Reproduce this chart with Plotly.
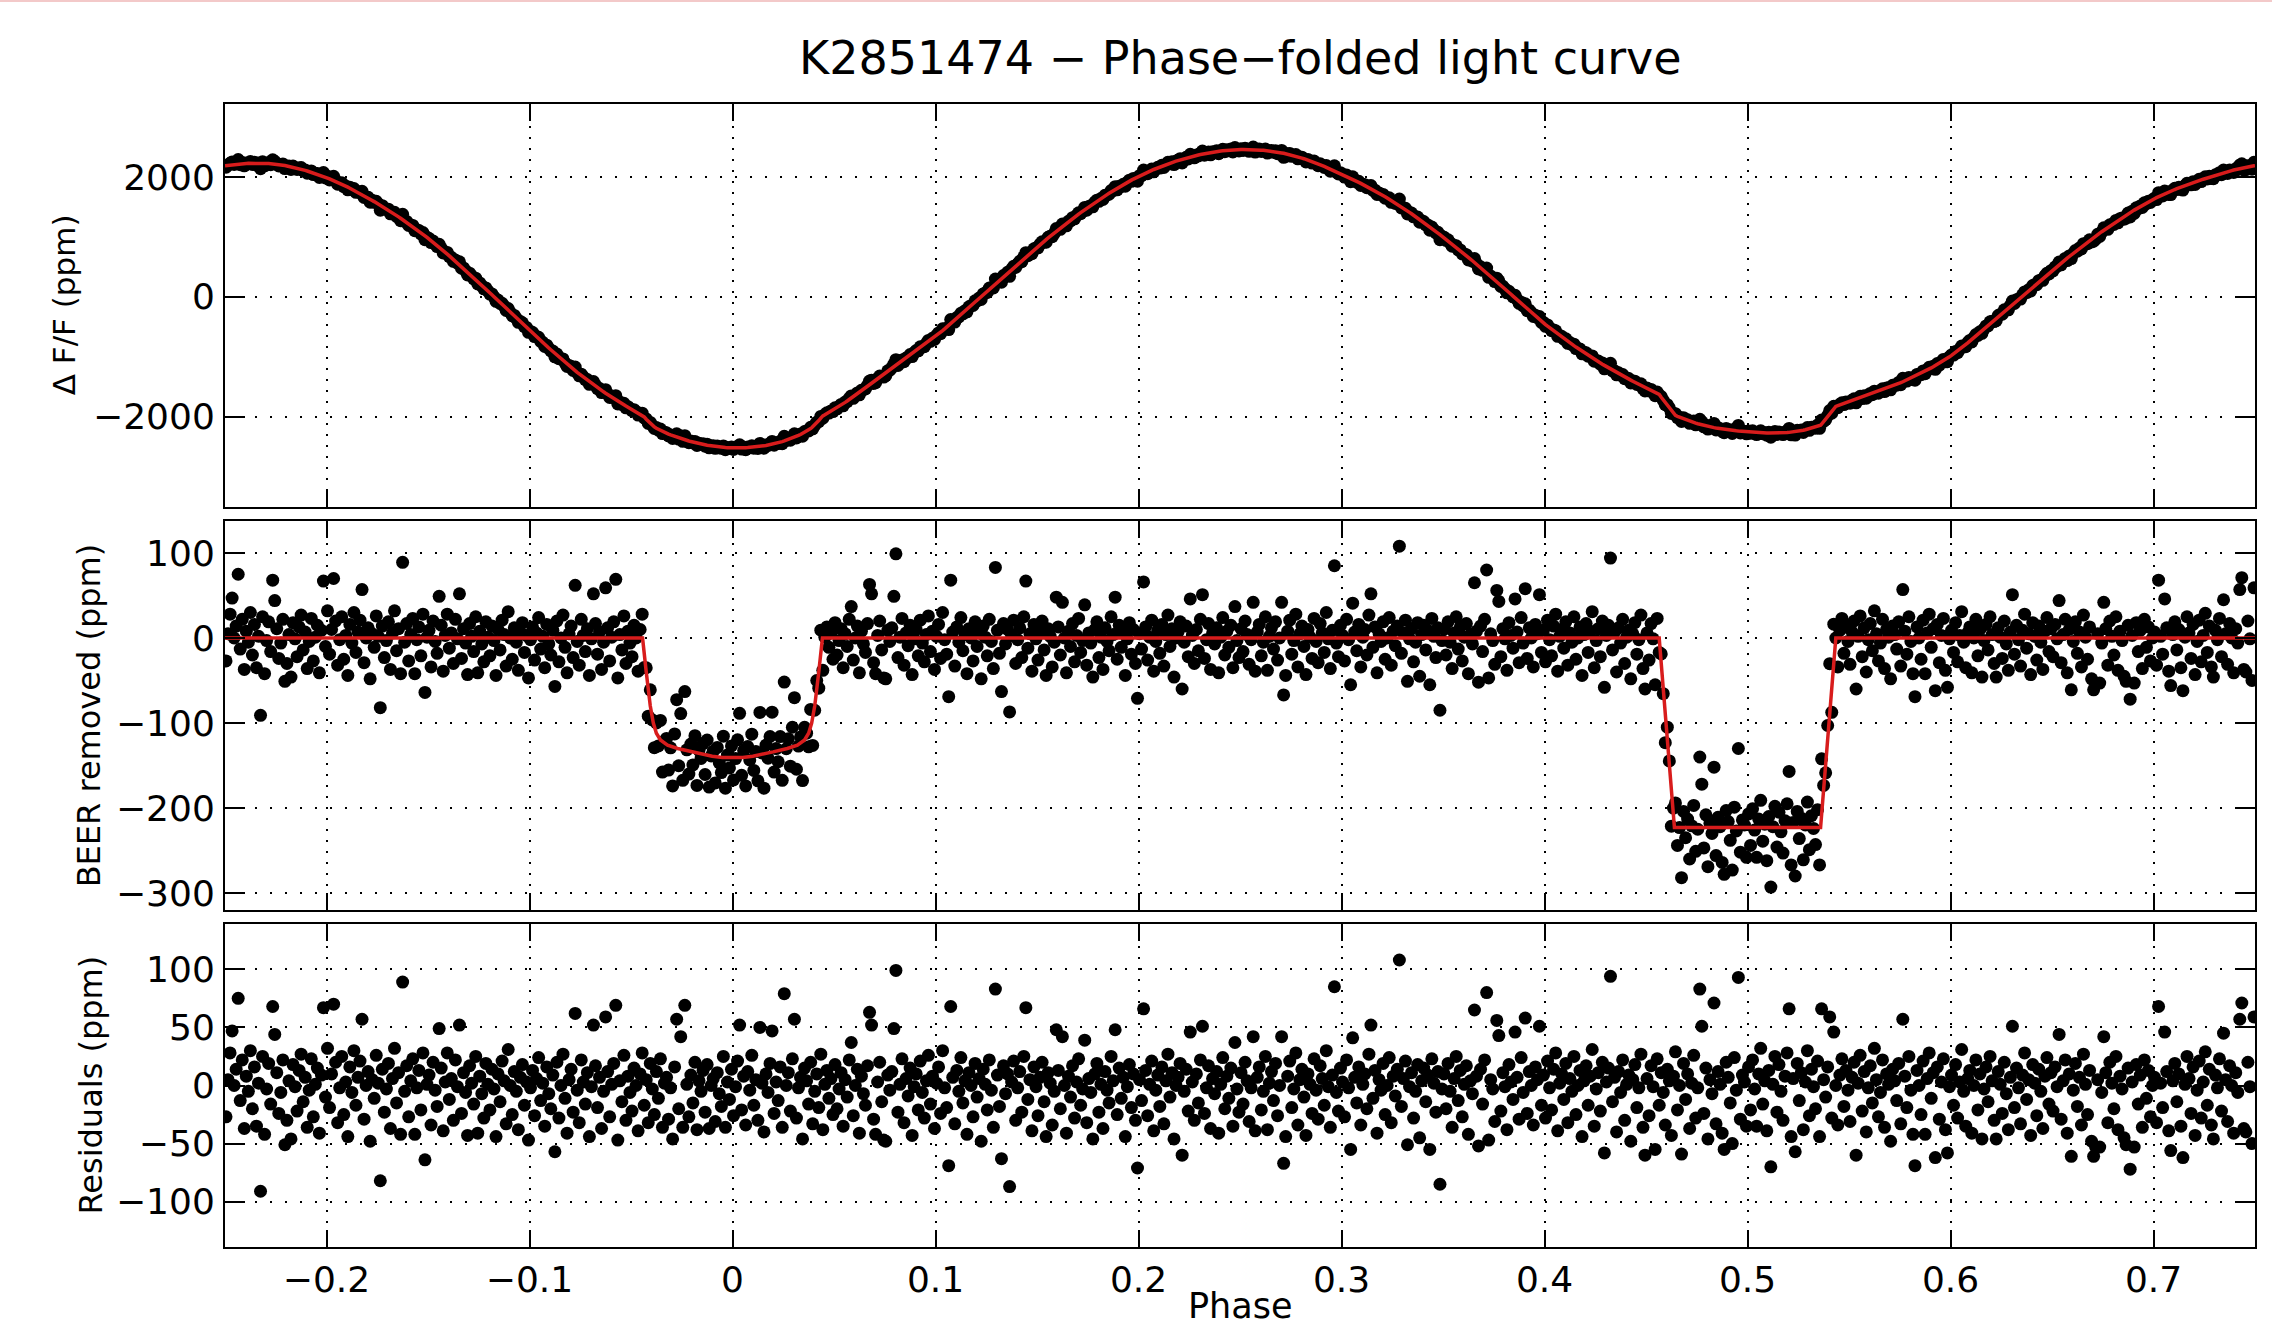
import numpy as np
import plotly.graph_objects as go

# ---------------- data ----------------
# phase bins of the folded light curve
PHASE_START = -0.2495
PHASE_STEP = 0.001

# residuals (ppm) of every phase bin, read/estimated from the bottom panel
residuals = [
    -27,5,28,47,0,14,75,-13,22,-37,8,-5,30,-20,16,-35,2,-91,25,-42,-3,19,-16,68,44,11,-24,-6,22,-51,-30,4,-46,18,-1,-22,13,27,-14,7,-36,-4,23,-27,1,15,-41,9,67,-10,
    32,-19,10,70,20,-32,-2,25,-25,3,-44,16,-6,30,-17,7,21,57,-29,0,12,-48,5,-11,26,2,-82,14,-23,-3,19,-37,6,32,-15,11,-42,89,-5,17,-27,4,23,-42,-2,13,-21,28,-64,1,
    9,-34,20,-4,-18,49,15,-39,3,28,-12,6,-30,22,-1,52,-24,11,-6,-43,17,2,-16,25,-41,8,-7,-28,19,1,-21,14,-3,-44,10,-14,21,4,-33,31,0,-25,12,-5,-38,7,18,-17,3,-47,
    -2,13,-26,6,24,-13,2,-35,16,-7,-20,9,-57,20,-28,0,27,-11,-41,5,14,-23,62,-4,-32,22,3,-16,11,-44,-1,52,17,-19,7,-37,-5,59,12,-27,1,19,69,-47,4,-14,26,-30,8,-6,
    -22,15,0,-39,10,28,-17,5,-32,19,-3,-25,12,-11,23,-36,2,7,-29,-2,-46,16,57,-20,42,-36,69,1,-27,9,-15,20,-38,4,-5,13,-23,18,-37,0,6,-31,11,-7,-18,25,-36,3,-12,14,
    -26,-1,21,52,-21,8,-34,12,-4,26,-17,5,-30,50,2,-40,10,-6,19,47,-24,3,-13,16,-36,79,0,11,-22,23,57,-28,-2,7,-46,15,4,-16,20,-33,-5,10,-19,27,-38,1,13,-11,6,-25,
    18,-20,-3,11,-35,5,-10,22,37,-26,0,14,-41,8,-7,-17,17,63,52,-29,-42,3,20,-14,-47,-48,9,-4,12,49,99,-23,1,23,-32,6,-9,15,-43,-1,10,-21,21,-6,-28,4,26,-16,8,-37,
    2,16,-24,30,-2,-19,-69,68,7,-33,13,-5,24,-15,4,-42,11,0,-27,19,-10,6,-48,14,1,-21,22,-4,-36,83,9,-18,-63,17,-7,10,-87,3,21,-30,-2,12,-23,25,67,-12,5,-39,16,-1,
    -26,7,20,-14,-44,11,2,-34,-5,48,13,-20,42,0,-41,8,-10,17,-28,3,23,-17,-3,39,-32,6,-6,-46,10,19,-23,1,-37,12,-4,-15,25,4,48,-25,15,-11,7,-44,-1,18,-19,10,-30,-71,
    5,-13,66,13,-26,1,21,-39,-4,9,-18,16,-33,4,27,-10,11,-46,0,7,19,-60,-5,14,-22,46,3,-30,10,-15,22,51,-24,-2,17,-37,6,-7,12,-41,1,24,-20,8,-11,15,-35,37,-3,-23,
    11,-16,20,4,-31,-2,42,-39,7,16,-21,-5,25,-38,2,12,-13,19,-26,0,42,-67,-44,8,21,-19,-3,28,-34,5,14,-10,-43,10,1,-24,23,-4,-29,17,6,-17,30,-1,-36,9,85,-6,-22,15,
    3,-27,22,-2,-55,41,7,-15,16,-34,1,10,-20,27,52,-11,13,-41,5,-4,19,-25,0,24,-32,8,-9,14,108,-18,6,21,-51,-1,11,-28,-5,18,-45,4,15,-14,9,-55,23,2,-23,12,-85,-3,
    10,-20,19,-5,-36,6,25,-13,13,-27,1,17,-42,4,-7,65,8,-52,14,-16,22,80,-47,5,-3,-31,56,43,-22,11,-1,-38,18,3,-12,46,7,-29,24,-6,58,-24,12,0,-34,16,5,51,-17,9,
    -28,21,-2,-21,14,28,-39,2,10,-12,19,-32,6,-5,25,-25,0,13,-44,4,17,-17,8,31,-35,-3,11,-22,20,-58,3,15,94,-14,7,-40,12,-6,22,-30,1,9,-48,5,18,-19,-2,27,-36,-60,
    6,-26,17,-1,-55,23,-17,11,-6,-34,14,4,-43,8,29,-21,0,-59,19,-12,10,-37,2,26,-28,-2,83,51,-24,15,-46,5,-7,71,-33,12,1,-41,-55,20,7,-15,-50,24,-4,93,-29,9,3,-35,
    16,-21,22,-3,-35,10,32,-16,4,-39,13,-70,1,25,-23,18,-5,-30,8,28,66,-44,6,-57,19,-13,11,-38,3,30,-26,14,-1,-20,21,-44,66,5,-10,16,59,-28,46,0,-34,9,23,-18,13,-4,
    -31,7,20,-60,2,26,-22,12,-40,-2,17,-15,32,5,-27,-6,22,-36,10,1,-48,14,4,-13,19,-33,57,8,-19,25,-4,-42,-69,13,0,-25,21,-42,6,28,-11,11,-62,16,-29,3,23,-38,-58,-1,
    9,-17,18,-28,3,31,-5,-35,6,13,-41,0,22,-21,10,-46,-3,16,-14,25,4,-30,-46,12,1,-24,20,-7,-38,7,51,-19,15,-2,-33,9,28,-12,5,-43,18,2,-26,14,-5,-37,8,24,-16,11,
    -22,16,-1,44,-29,4,22,-41,10,-61,-4,19,-18,7,-34,27,1,-25,13,-48,-61,-53,5,-53,-6,42,11,-32,20,2,-20,25,-38,8,-3,-45,-51,15,-72,3,-53,18,-16,9,-36,22,-11,13,-27,0,
    7,-32,68,2,-19,46,12,-39,-56,4,19,-14,10,-35,-62,1,25,6,-24,16,-43,-4,21,-28,3,29,-17,14,-34,-46,9,-2,23,-22,45,5,-31,17,0,-41,11,-6,57,71,-37,-40,20,-1,-50,59,
]

# BEER (beaming / ellipsoidal / reflection) model (ppm)
beer_phase = [-0.25, -0.225, -0.2, -0.175, -0.15, -0.125, -0.1, -0.075, -0.05, -0.025,
              0.0, 0.025, 0.05, 0.075, 0.1, 0.125, 0.15, 0.175, 0.2, 0.225,
              0.25, 0.275, 0.3, 0.325, 0.35, 0.375, 0.4, 0.425, 0.45, 0.475,
              0.5, 0.525, 0.55, 0.575, 0.6, 0.625, 0.65, 0.675, 0.7, 0.725]
beer_ppm = [2190, 2215, 1990, 1560, 980, 240, -560, -1300, -1870, -2240,
            -2380, -2280, -1880, -1280, -660, 80, 830, 1490, 2010, 2330,
            2460, 2370, 2050, 1600, 1000, 300, -450, -1050, -1520, -1890,
            -2030, -2020, -1750, -1440, -990, -280, 440, 1100, 1630, 1970]

# transit / eclipse model (red line of the middle panel), ppm
transit_phase = [-0.0443, -0.0425, -0.0405, -0.039, -0.0375, -0.0355, -0.032, -0.027, -0.02, -0.015,
                 -0.01, -0.005, 0.0, 0.005, 0.01, 0.015, 0.02, 0.027, 0.032, 0.0355,
                 0.0375, 0.039, 0.0405, 0.0425, 0.0443,
                 0.4565, 0.464, 0.536, 0.5435]
transit_ppm = [0, -40, -80, -100, -112, -120, -126, -130, -134, -137,
               -139, -140.5, -141, -140.5, -139, -137, -134, -130, -126, -120,
               -112, -100, -80, -40, 0,
               0, -223, -223, 0]

# axis ticks
x_tickvals = [-0.2, -0.1, 0.0, 0.1, 0.2, 0.3, 0.4, 0.5, 0.6, 0.7]
x_ticktext = ["\u22120.2", "\u22120.1", "0", "0.1", "0.2", "0.3", "0.4", "0.5", "0.6", "0.7"]
y1_tickvals = [-2000, 0, 2000]
y1_ticktext = ["\u22122000", "0", "2000"]
y2_tickvals = [-300, -200, -100, 0, 100]
y2_ticktext = ["\u2212300", "\u2212200", "\u2212100", "0", "100"]
y3_tickvals = [-100, -50, 0, 50, 100]
y3_ticktext = ["\u2212100", "\u221250", "0", "50", "100"]

title_text = "K2851474 \u2212 Phase\u2212folded light curve"
y1_title = "\u0394 F/F (ppm)"
y2_title = "BEER removed (ppm)"
y3_title = "Residuals (ppm)"
x_title = "Phase"

# ---------------- derived series ----------------
resid = np.asarray(residuals, dtype=float)
phase = PHASE_START + PHASE_STEP * np.arange(len(resid))

bp = np.asarray(beer_phase, dtype=float)
bv = np.asarray(beer_ppm, dtype=float)


def beer_at(p):
    # periodic Catmull-Rom curve through the read BEER values
    n = len(bv)
    h = bp[1] - bp[0]
    t = (np.asarray(p, dtype=float) - bp[0]) / h
    i = np.floor(t + 1e-9).astype(int)
    u = t - i
    p0 = bv[(i - 1) % n]
    p1 = bv[i % n]
    p2 = bv[(i + 1) % n]
    p3 = bv[(i + 2) % n]
    return 0.5 * (2 * p1 + (-p0 + p2) * u + (2 * p0 - 5 * p1 + 4 * p2 - p3) * u ** 2
                  + (-p0 + 3 * p1 - 3 * p2 + p3) * u ** 3)


def transit_at(p):
    return np.interp(p, transit_phase, transit_ppm)


middle = transit_at(phase) + resid
top = beer_at(phase) + middle

line_x = np.unique(np.concatenate([[-0.25, 0.75], phase, transit_phase]))
top_line = beer_at(line_x) + transit_at(line_x)
mid_line_x = [-0.25] + list(transit_phase) + [0.75]
mid_line_y = [0] + list(transit_ppm) + [0]

# ---------------- figure ----------------
FONT = "DejaVu Sans"
RED = "rgb(216,28,28)"
MS = 13

fig = go.Figure()
dot = dict(color="black", size=MS, line=dict(width=0))

fig.add_trace(go.Scatter(x=phase, y=top, mode="markers", marker=dot, xaxis="x", yaxis="y", showlegend=False))
fig.add_trace(go.Scatter(x=line_x, y=top_line, mode="lines", line=dict(color=RED, width=3.5),
                         xaxis="x", yaxis="y", showlegend=False))
fig.add_trace(go.Scatter(x=phase, y=middle, mode="markers", marker=dot, xaxis="x2", yaxis="y2", showlegend=False))
fig.add_trace(go.Scatter(x=mid_line_x, y=mid_line_y, mode="lines", line=dict(color=RED, width=3.5),
                         xaxis="x2", yaxis="y2", showlegend=False))
fig.add_trace(go.Scatter(x=phase, y=resid, mode="markers", marker=dot, xaxis="x3", yaxis="y3", showlegend=False))

W, H = 2272, 1331
ML, MR, MT, MB = 225, 17, 104, 84
PH = H - MT - MB
PW = W - ML - MR


def dom(y_top_px, y_bot_px):
    return [(H - MB - y_bot_px) / PH, (H - MB - y_top_px) / PH]


d1 = dom(104, 506.5)
d2 = dom(520.7, 910)
d3 = dom(924, 1247)

tickfont = dict(family=FONT, size=36, color="black")


def xaxis(anchor, labels):
    return dict(domain=[0, 1], anchor=anchor, range=[-0.25, 0.75],
                showline=True, linecolor="black", linewidth=2, mirror="ticks",
                ticks="inside", ticklen=17, tickwidth=2, tickcolor="black",
                showgrid=True, gridcolor="black", gridwidth=1.5, griddash="2px,9px",
                zeroline=False, tickvals=x_tickvals, ticktext=x_ticktext,
                showticklabels=labels, tickfont=tickfont, ticklabelstandoff=0)


def yaxis(anchor, domain, rng, vals, text):
    return dict(domain=domain, anchor=anchor, range=rng,
                showline=True, linecolor="black", linewidth=2, mirror="ticks",
                ticks="inside", ticklen=20, tickwidth=2, tickcolor="black",
                showgrid=True, gridcolor="black", gridwidth=1.5, griddash="2px,13px",
                zeroline=False, tickvals=vals, ticktext=text,
                tickfont=tickfont, ticklabelstandoff=1)


fig.update_layout(
    width=W, height=H,
    margin=dict(l=ML, r=MR, t=MT, b=MB, autoexpand=False),
    paper_bgcolor="white", plot_bgcolor="white",
    font=dict(family=FONT, color="black"),
    showlegend=False,
    xaxis=xaxis("y", False),
    xaxis2=xaxis("y2", False),
    xaxis3=xaxis("y3", True),
    yaxis=yaxis("x", d1, [-3500, 3220], y1_tickvals, y1_ticktext),
    yaxis2=yaxis("x2", d2, [-320, 138], y2_tickvals, y2_ticktext),
    yaxis3=yaxis("x3", d3, [-139, 139], y3_tickvals, y3_ticktext),
)

# thin pale-red strip along the very top edge of the reference image
fig.add_shape(type="rect", xref="paper", yref="paper",
              x0=-ML / PW, x1=1 + MR / PW,
              y0=(H - MB - 2) / PH, y1=(H - MB) / PH,
              fillcolor="#f3c9c9", line=dict(width=0), layer="above")

ann = []
ann.append(dict(text=title_text, xref="paper", yref="paper", x=0.5, y=1, yshift=MT - 58,
                xanchor="center", yanchor="middle", showarrow=False,
                font=dict(family=FONT, size=46, color="black")))
ann.append(dict(text=x_title, xref="paper", yref="paper", x=0.5, y=0, yshift=-(1306 - (H - MB)),
                xanchor="center", yanchor="middle", showarrow=False,
                font=dict(family=FONT, size=35, color="black")))
for txt, d, xpx, fs in [(y1_title, d1, 64, 31), (y2_title, d2, 89, 32), (y3_title, d3, 90, 32)]:
    ann.append(dict(text=txt, xref="paper", yref="paper", x=0, xshift=xpx - ML,
                    y=(d[0] + d[1]) / 2, xanchor="center", yanchor="middle",
                    textangle=-90, showarrow=False,
                    font=dict(family=FONT, size=fs, color="black")))
fig.update_layout(annotations=ann)

fig.write_html("out.html")
